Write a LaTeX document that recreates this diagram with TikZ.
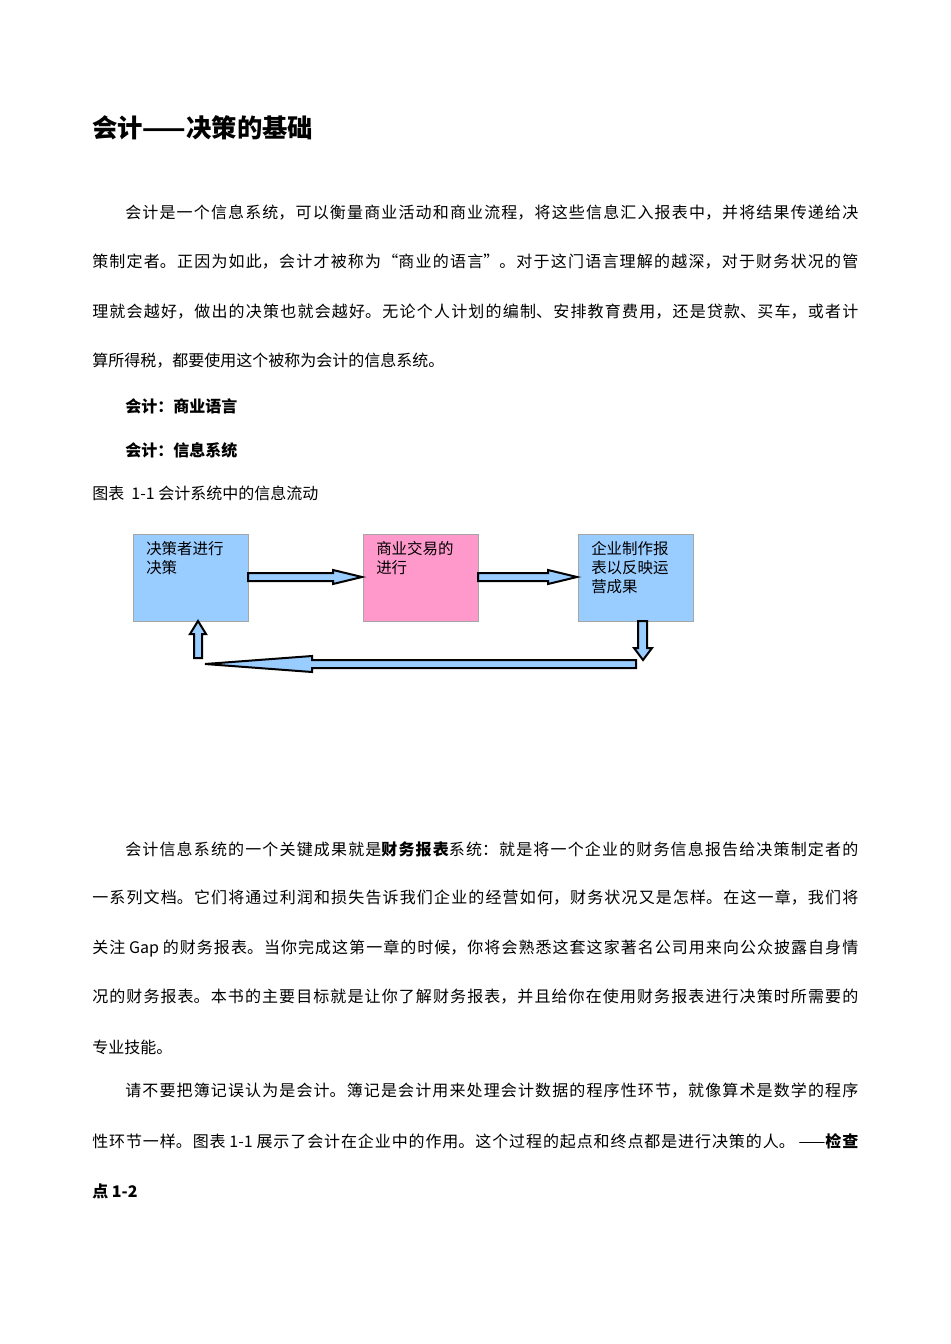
\documentclass[tikz,border=0pt]{standalone}
\usepackage{fontspec}
\setmainfont{Noto Sans CJK SC}
\definecolor{boxblue}{HTML}{99CCFF}
\definecolor{boxpink}{HTML}{FF99CC}
\newcommand\jtext[2]{\parbox{#1}{\XeTeXlinebreaklocale "zh"\XeTeXlinebreakskip=0pt plus 6pt\parfillskip=0pt\noindent #2}}
\begin{document}
\begin{tikzpicture}[x=0.75pt,y=-0.75pt,
  txt/.style={anchor=west,inner sep=0pt,font=\fontsize{12}{14}\selectfont},
  procbox/.style={draw=black!35,line width=0.4pt,minimum width=86.25pt,minimum height=65.25pt,inner sep=0pt},
  boxlabel/.style={anchor=north west,inner sep=0pt,align=left,font=\fontsize{11.6}{14.2}\selectfont},
  blockarrow/.style={draw=black,line width=1.5pt,fill=boxblue,line join=miter}]
\useasboundingbox (0,0) rectangle (950,1344);
\fill[white] (0,0) rectangle (950,1344);
\node[txt,font=\fontsize{19}{22}\selectfont\bfseries] (title) at (92,128) {会计——决策的基础};
\node[txt] (p1a) at (125,213) {\jtext{549.75pt}{会计是一个信息系统，可以衡量商业活动和商业流程，将这些信息汇入报表中，并将结果传递给决}};
\node[txt] (p1b) at (92,262) {\jtext{574.5pt}{策制定者。正因为如此，会计才被称为“商业的语言”。对于这门语言理解的越深，对于财务状况的管}};
\node[txt] (p1c) at (92,312) {\jtext{574.5pt}{理就会越好，做出的决策也就会越好。无论个人计划的编制、安排教育费用，还是贷款、买车，或者计}};
\node[txt] (p1d) at (92,361) {算所得税，都要使用这个被称为会计的信息系统。};
\node[txt,font=\fontsize{12}{14}\selectfont\bfseries] (h1) at (125,406) {会计：商业语言};
\node[txt,font=\fontsize{12}{14}\selectfont\bfseries] (h2) at (125,450) {会计：信息系统};
\node[txt] (cap) at (92,493) {图表\ \ 1-1 会计系统中的信息流动};
% diagram
\node[procbox,fill=boxblue,anchor=north west] (b1) at (133,534) {};
\node[procbox,fill=boxpink,anchor=north west] (b2) at (363,534) {};
\node[procbox,fill=boxblue,anchor=north west] (b3) at (578,534) {};
\node[boxlabel] (l1) at (146,541) {决策者进行\\决策};
\node[boxlabel] (l2) at (376,541) {商业交易的\\进行};
\node[boxlabel] (l3) at (591,541) {企业制作报\\表以反映运\\营成果};
\draw[blockarrow] (248,573) -- (333,573) -- (333,570) -- (362,577) -- (333,584) -- (333,581) -- (248,581) -- cycle;
\draw[blockarrow] (478,573) -- (548,573) -- (548,570) -- (577,577) -- (548,584) -- (548,581) -- (478,581) -- cycle;
\draw[blockarrow] (638,621) -- (647,621) -- (647,648) -- (652,648) -- (643,660) -- (634,648) -- (638,648) -- cycle;
\draw[blockarrow] (636,660) -- (312,660) -- (312,656) -- (205,664) -- (312,672) -- (312,668) -- (636,668) -- cycle;
\draw[blockarrow] (194,658) -- (194,634) -- (190,634) -- (198,621) -- (206,634) -- (202,634) -- (202,658) -- cycle;
% paragraph 2
\node[txt] (p2a) at (125,849) {\jtext{549.75pt}{会计信息系统的一个关键成果就是\textbf{财务报表}系统：就是将一个企业的财务信息报告给决策制定者的}};
\node[txt] (p2b) at (92,898) {\jtext{574.5pt}{一系列文档。它们将通过利润和损失告诉我们企业的经营如何，财务状况又是怎样。在这一章，我们将}};
\node[txt] (p2c) at (92,948) {\jtext{574.5pt}{关注 Gap 的财务报表。当你完成这第一章的时候，你将会熟悉这套这家著名公司用来向公众披露自身情}};
\node[txt] (p2d) at (92,997) {\jtext{574.5pt}{况的财务报表。本书的主要目标就是让你了解财务报表，并且给你在使用财务报表进行决策时所需要的}};
\node[txt] (p2e) at (92,1047) {专业技能。};
\node[txt] (p3a) at (125,1091) {\jtext{549.75pt}{请不要把簿记误认为是会计。簿记是会计用来处理会计数据的程序性环节，就像算术是数学的程序}};
\node[txt] (p3b) at (92,1141) {\jtext{574.5pt}{性环节一样。图表 1-1 展示了会计在企业中的作用。这个过程的起点和终点都是进行决策的人。 ——\textbf{检查}}};
\node[txt,font=\fontsize{12}{14}\selectfont\bfseries] (p3c) at (92,1191) {点 1-2};
\end{tikzpicture}
\end{document}
